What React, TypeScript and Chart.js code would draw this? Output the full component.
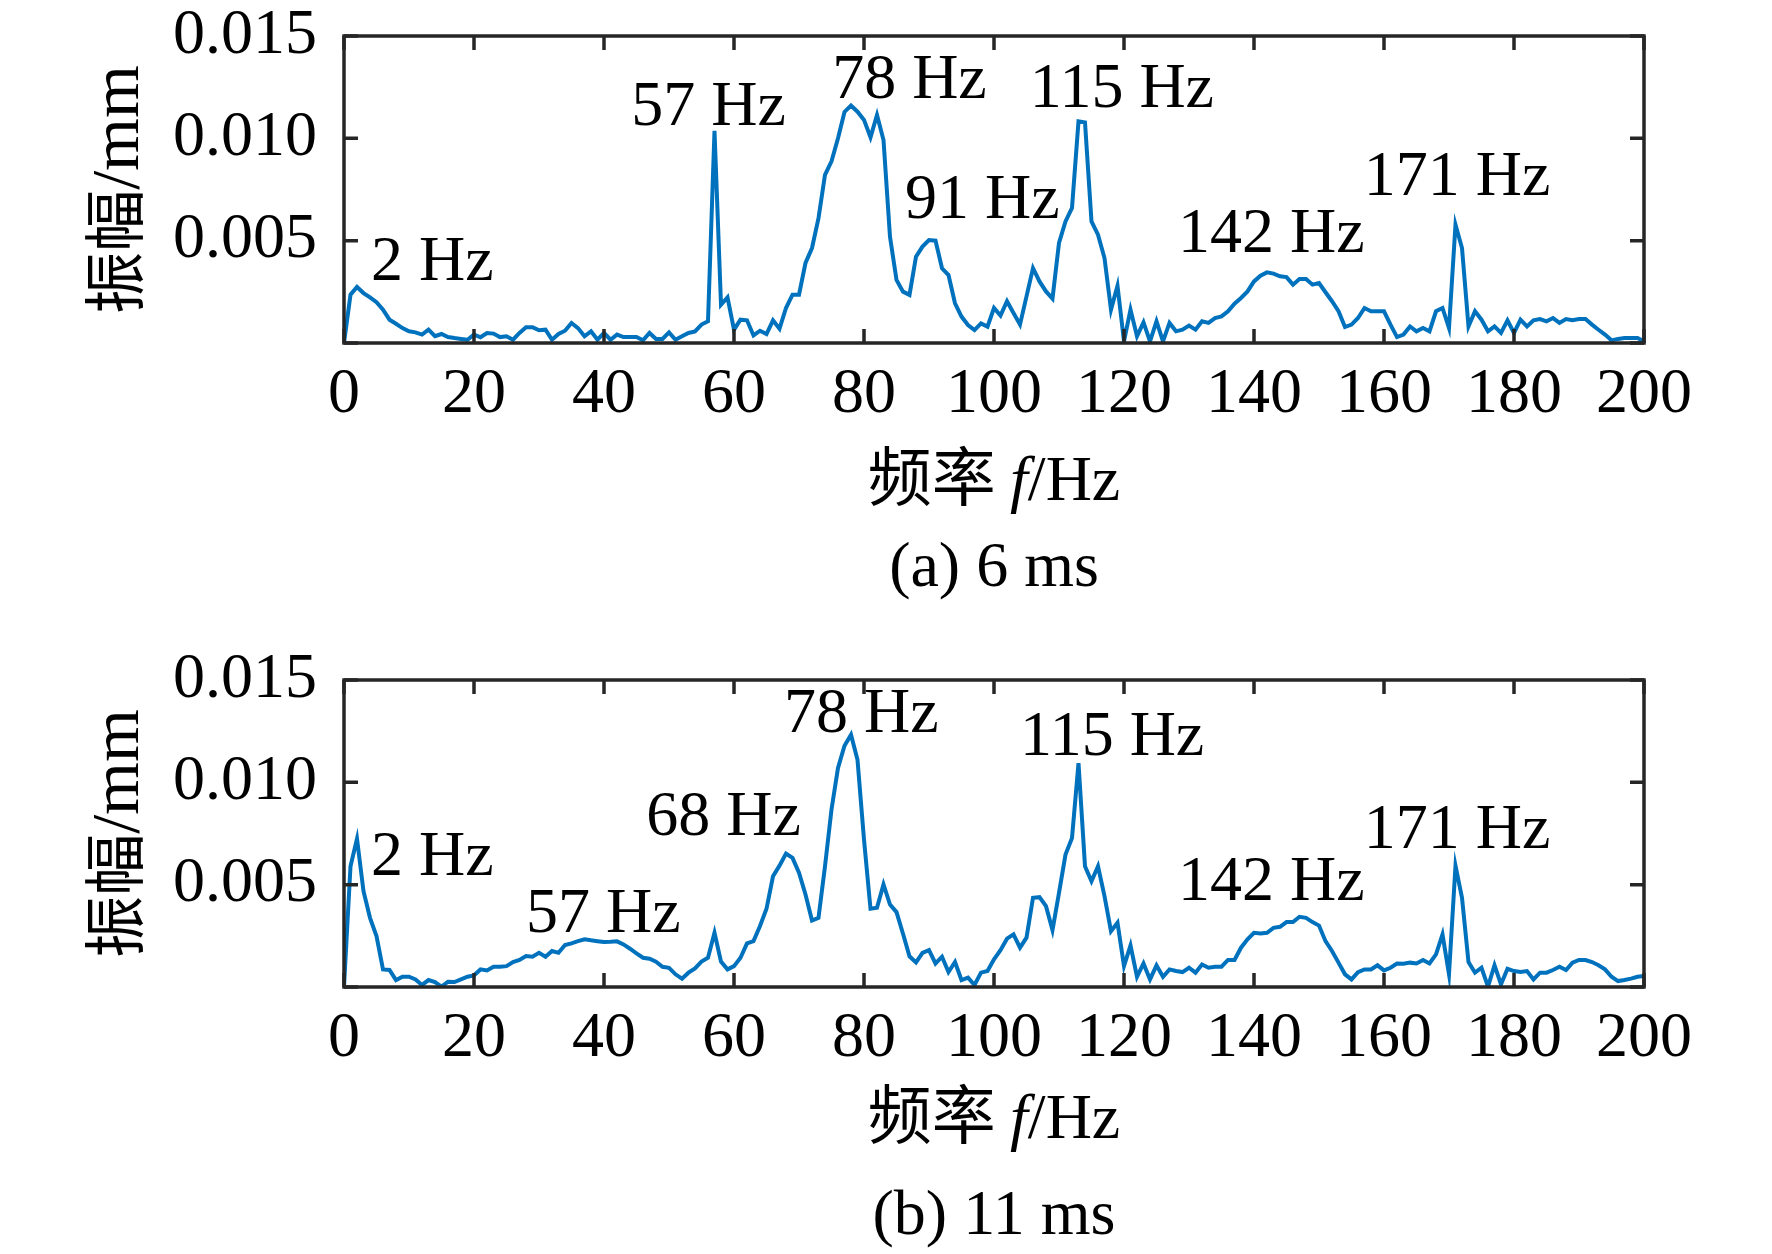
import React, { useEffect, useRef } from 'react';
import { Chart, registerables } from 'chart.js';

Chart.register(...registerables);

// ---------------- data ----------------
const FREQ_HZ = [
  0, 1, 2, 3, 4, 5, 6, 7, 8, 9, 10, 11, 12, 13, 14, 15, 16, 17, 18, 19,
  20, 21, 22, 23, 24, 25, 26, 27, 28, 29, 30, 31, 32, 33, 34, 35, 36, 37, 38, 39,
  40, 41, 42, 43, 44, 45, 46, 47, 48, 49, 50, 51, 52, 53, 54, 55, 56, 57, 58, 59,
  60, 61, 62, 63, 64, 65, 66, 67, 68, 69, 70, 71, 72, 73, 74, 75, 76, 77, 78, 79,
  80, 81, 82, 83, 84, 85, 86, 87, 88, 89, 90, 91, 92, 93, 94, 95, 96, 97, 98, 99,
  100, 101, 102, 103, 104, 105, 106, 107, 108, 109, 110, 111, 112, 113, 114, 115, 116, 117, 118, 119,
  120, 121, 122, 123, 124, 125, 126, 127, 128, 129, 130, 131, 132, 133, 134, 135, 136, 137, 138, 139,
  140, 141, 142, 143, 144, 145, 146, 147, 148, 149, 150, 151, 152, 153, 154, 155, 156, 157, 158, 159,
  160, 161, 162, 163, 164, 165, 166, 167, 168, 169, 170, 171, 172, 173, 174, 175, 176, 177, 178, 179,
  180, 181, 182, 183, 184, 185, 186, 187, 188, 189, 190, 191, 192, 193, 194, 195, 196, 197, 198, 199,
  200,
];

// amplitude (mm), 6 ms
const AMP_6MS = [
  0.0, 0.00236, 0.00274, 0.00244, 0.00223, 0.00199, 0.00163, 0.00114, 0.00094, 0.00073,
  0.00057, 0.00052, 0.00041, 0.00065, 0.00033, 0.00044, 0.00029, 0.00024, 0.0002, 0.00016,
  0.00041, 0.00028, 0.00049, 0.00046, 0.00029, 0.00033, 0.00016, 0.00049, 0.00077, 0.00077,
  0.00062, 0.00065, 0.00016, 0.00044, 0.0006, 0.00098, 0.00073, 0.00033, 0.00057, 0.00016,
  0.00049, 0.00016, 0.00041, 0.00029, 0.00029, 0.00029, 0.00013, 0.00049, 0.0002, 0.0002,
  0.00052, 0.00016, 0.00033, 0.00049, 0.00057, 0.0009, 0.00106, 0.01037, 0.00187, 0.00223,
  0.00065, 0.00114, 0.00111, 0.00037, 0.0006, 0.00044, 0.00111, 0.0007, 0.00171, 0.00236,
  0.00236, 0.00391, 0.00464, 0.0061, 0.00822, 0.00888, 0.01, 0.01129, 0.0116, 0.0113,
  0.0109, 0.01005, 0.01114, 0.00992, 0.00519, 0.00308, 0.00251, 0.00235, 0.00422, 0.00471,
  0.00503, 0.005, 0.00365, 0.00332, 0.00194, 0.00129, 0.00088, 0.00063, 0.00096, 0.0008,
  0.00171, 0.00134, 0.00204, 0.00147, 0.0009, 0.00228, 0.00366, 0.00301, 0.00252, 0.00217,
  0.00489, 0.00594, 0.0066, 0.01083, 0.01078, 0.00594, 0.00529, 0.00415, 0.00163, 0.0028,
  0.00008, 0.00163, 0.00033, 0.00101, 0.00008, 0.00106, 0.00008, 0.00098, 0.00057, 0.00065,
  0.00085, 0.00065, 0.00106, 0.00098, 0.00122, 0.0013, 0.00155, 0.00192, 0.0022, 0.00252,
  0.00301, 0.00329, 0.00345, 0.00339, 0.00326, 0.00322, 0.00285, 0.00313, 0.00313, 0.00285,
  0.00293, 0.00248, 0.00204, 0.00155, 0.00078, 0.0009, 0.00122, 0.00171, 0.00155, 0.00155,
  0.00155, 0.0009, 0.00029, 0.00041, 0.00081, 0.00057, 0.00073, 0.00057, 0.00155, 0.00171,
  0.00073, 0.00578, 0.00464, 0.00081, 0.00155, 0.00114, 0.00057, 0.00081, 0.00049, 0.00111,
  0.00049, 0.00114, 0.00081, 0.00111, 0.00117, 0.00106, 0.00122, 0.00098, 0.00117, 0.00111,
  0.00117, 0.00117, 0.0009, 0.00065, 0.00041, 0.00013, 0.0002, 0.00024, 0.00024, 0.00024,
  0.00008,
];

// amplitude (mm), 11 ms
const AMP_11MS = [
  0.0, 0.0059, 0.00724, 0.00468, 0.00338, 0.00249, 0.00086, 0.00083, 0.00034, 0.0005,
  0.0005, 0.00037, 0.0001, 0.00034, 0.00024, 0.00002, 0.00026, 0.00024, 0.00037, 0.0005,
  0.00057, 0.00086, 0.00081, 0.00099, 0.00099, 0.00102, 0.00122, 0.00132, 0.00151, 0.00148,
  0.00167, 0.00148, 0.00176, 0.00167, 0.00205, 0.00213, 0.00224, 0.00233, 0.00228, 0.00224,
  0.0022, 0.00221, 0.00223, 0.00208, 0.00187, 0.00164, 0.00143, 0.00138, 0.00124, 0.00099,
  0.00094, 0.00062, 0.00041, 0.0007, 0.00091, 0.00124, 0.00143, 0.00265, 0.00124, 0.00086,
  0.00102, 0.00143, 0.00213, 0.00224, 0.00298, 0.00382, 0.00541, 0.00593, 0.00652, 0.00631,
  0.00558, 0.00452, 0.00325, 0.00338, 0.0059, 0.00867, 0.0107, 0.01179, 0.01233, 0.0111,
  0.0072, 0.00382, 0.00387, 0.00501, 0.00403, 0.00366, 0.0026, 0.0015, 0.0012, 0.00167,
  0.0018, 0.00115, 0.00148, 0.00073, 0.00122, 0.00034, 0.00046, 0.0001, 0.0007, 0.00078,
  0.00135, 0.0018, 0.00236, 0.00257, 0.00192, 0.00241, 0.00436, 0.00439, 0.00395, 0.00278,
  0.0046, 0.00647, 0.00728, 0.01094, 0.0059, 0.00517, 0.0059, 0.00444, 0.00273, 0.00314,
  0.00102, 0.00203, 0.0005, 0.00115, 0.00037, 0.00106, 0.0005, 0.00086, 0.00078, 0.00073,
  0.00094, 0.0007, 0.0011, 0.00094, 0.00099, 0.00099, 0.00132, 0.00132, 0.00192, 0.00233,
  0.00265, 0.00262, 0.00265, 0.00289, 0.00294, 0.00317, 0.00317, 0.00343, 0.00338, 0.00317,
  0.003, 0.00224, 0.00176, 0.00119, 0.00062, 0.00037, 0.00073, 0.00086, 0.00086, 0.00106,
  0.00081, 0.00094, 0.00115, 0.00114, 0.00119, 0.00115, 0.00132, 0.00115, 0.00159, 0.00257,
  0.00062, 0.00593, 0.00436, 0.00122, 0.0007, 0.00094, 0.00002, 0.00106, 0.00013, 0.00089,
  0.00078, 0.00073, 0.00078, 0.00037, 0.0007, 0.0007, 0.00083, 0.00099, 0.00083, 0.00119,
  0.00132, 0.00132, 0.00122, 0.00106, 0.00086, 0.0005, 0.00029, 0.00034, 0.00041, 0.0005,
  0.00054,
];

const PEAK_LABELS_6MS = ['2 Hz', '57 Hz', '78 Hz', '91 Hz', '115 Hz', '142 Hz', '171 Hz'];
const PEAK_AT_HZ_6MS = [4.15, 44.2, 75.1, 86.3, 105.5, 128.3, 156.9];
const PEAK_AT_AMP_6MS = [0.00308, 0.01065, 0.01197, 0.00611, 0.01153, 0.00445, 0.00723];

const PEAK_LABELS_11MS = ['2 Hz', '57 Hz', '68 Hz', '78 Hz', '115 Hz', '142 Hz', '171 Hz'];
const PEAK_AT_HZ_11MS = [4.15, 28.0, 46.5, 67.7, 104.0, 128.3, 156.9];
const PEAK_AT_AMP_11MS = [0.00549, 0.00271, 0.00744, 0.01246, 0.01134, 0.00427, 0.0068];

const X_MIN = 0;
const X_MAX = 200;
const X_STEP = 20;
const Y_MIN = 0;
const Y_MAX = 0.015;
const Y_STEP = 0.005;

const Y_TITLE_CJK = '振幅';
const Y_TITLE_UNIT = '/mm';
const X_TITLE_CJK = '频率 ';
const X_TITLE_VAR = 'f';
const X_TITLE_UNIT = '/Hz';

// ---------------- styles ----------------
const W = 1772;
const SERIF = '"Liberation Serif", "Times New Roman", serif';
const CJK = '"Noto Sans CJK SC", sans-serif';
const AXIS_COLOR = '#262626';
const LINE_COLOR = '#0072BD';
const FS = 64;

type PanelProps = {
  values: number[];
  labels: string[];
  atHz: number[];
  atAmp: number[];
  caption: string;
  height: number;
  xTitleBaseline: number;
  captionBaseline: number;
};

function Panel(props: PanelProps) {
  const ref = useRef<HTMLCanvasElement | null>(null);

  useEffect(() => {
    const canvas = ref.current;
    if (!canvas) return;
    const H = props.height;

    const framePlugin = {
      id: 'frame',
      afterDraw(chart: any) {
        const ctx = chart.ctx as CanvasRenderingContext2D;
        const { left, right, top, bottom } = chart.chartArea;
        const xs = chart.scales.x;
        const ys = chart.scales.y;
        ctx.save();
        // box
        ctx.strokeStyle = AXIS_COLOR;
        ctx.lineWidth = 3.5;
        ctx.strokeRect(left, top, right - left, bottom - top);
        // inward ticks
        const tl = 14;
        ctx.beginPath();
        xs.ticks.forEach((t: any) => {
          const px = xs.getPixelForValue(t.value);
          ctx.moveTo(px, bottom);
          ctx.lineTo(px, bottom - tl);
          ctx.moveTo(px, top);
          ctx.lineTo(px, top + tl);
        });
        ys.ticks.forEach((t: any) => {
          const py = ys.getPixelForValue(t.value);
          ctx.moveTo(left, py);
          ctx.lineTo(left + tl, py);
          ctx.moveTo(right, py);
          ctx.lineTo(right - tl, py);
        });
        ctx.stroke();

        // peak annotations
        ctx.fillStyle = '#000';
        ctx.font = `${FS}px ${SERIF}`;
        ctx.textAlign = 'left';
        ctx.textBaseline = 'alphabetic';
        props.labels.forEach((txt, i) => {
          ctx.fillText(txt, xs.getPixelForValue(props.atHz[i]), ys.getPixelForValue(props.atAmp[i]));
        });

        // x title: 频率 f/Hz
        const cx = (left + right) / 2;
        ctx.font = `${FS}px ${CJK}`;
        const w1 = ctx.measureText(X_TITLE_CJK).width;
        ctx.font = `italic ${FS}px ${SERIF}`;
        const w2 = ctx.measureText(X_TITLE_VAR).width;
        ctx.font = `${FS}px ${SERIF}`;
        const w3 = ctx.measureText(X_TITLE_UNIT).width;
        let sx = cx - (w1 + w2 + w3) / 2;
        const by = props.xTitleBaseline;
        ctx.font = `${FS}px ${CJK}`;
        ctx.fillText(X_TITLE_CJK, sx, by);
        sx += w1;
        ctx.font = `italic ${FS}px ${SERIF}`;
        ctx.fillText(X_TITLE_VAR, sx, by);
        sx += w2;
        ctx.font = `${FS}px ${SERIF}`;
        ctx.fillText(X_TITLE_UNIT, sx, by);

        // caption
        ctx.font = `${FS}px ${SERIF}`;
        ctx.textAlign = 'center';
        ctx.fillText(props.caption, cx, props.captionBaseline);

        // y title (rotated)
        ctx.save();
        ctx.translate(138, (top + bottom) / 2);
        ctx.rotate(-Math.PI / 2);
        ctx.textAlign = 'left';
        ctx.font = `62px ${CJK}`;
        const v1 = ctx.measureText(Y_TITLE_CJK).width;
        ctx.font = `68px ${SERIF}`;
        const v2 = ctx.measureText(Y_TITLE_UNIT).width;
        const vs = -(v1 + v2) / 2;
        ctx.font = `62px ${CJK}`;
        ctx.fillText(Y_TITLE_CJK, vs, 0);
        ctx.font = `68px ${SERIF}`;
        ctx.fillText(Y_TITLE_UNIT, vs + v1, 0);
        ctx.restore();

        ctx.restore();
      },
    };

    const chart = new Chart(canvas, {
      type: 'line',
      data: {
        datasets: [
          {
            data: FREQ_HZ.map((f, i) => ({ x: f, y: props.values[i] })),
            borderColor: LINE_COLOR,
            borderWidth: 4,
            pointRadius: 0,
            tension: 0,
            fill: false,
          },
        ],
      },
      options: {
        animation: false,
        responsive: false,
        devicePixelRatio: 1,
        layout: { padding: { top: 36, right: W - 1644, left: 0, bottom: 0 } },
        plugins: { legend: { display: false }, tooltip: { enabled: false } },
        scales: {
          x: {
            type: 'linear',
            min: X_MIN,
            max: X_MAX,
            ticks: {
              stepSize: X_STEP,
              autoSkip: false,
              maxRotation: 0,
              padding: 14,
              color: '#000',
              font: { family: SERIF, size: FS },
            },
            grid: { display: false, drawTicks: false },
            border: { display: false },
            afterFit: (s: any) => {
              s.height = H - 343;
              s.paddingLeft = 0;
              s.paddingRight = 0;
            },
          },
          y: {
            min: Y_MIN,
            max: Y_MAX,
            ticks: {
              stepSize: Y_STEP,
              padding: 27,
              color: '#000',
              font: { family: SERIF, size: FS },
              callback: (v: any) => (Number(v) === 0 ? '' : Number(v).toFixed(3)),
            },
            grid: { display: false, drawTicks: false },
            border: { display: false },
            afterFit: (s: any) => {
              s.width = 344;
              s.paddingTop = 0;
              s.paddingBottom = 0;
            },
          },
        },
      } as any,
      plugins: [framePlugin],
    });

    return () => chart.destroy();
  }, []);

  return (
    <canvas
      ref={ref}
      width={W}
      height={props.height}
      style={{ display: 'block', width: W, height: props.height }}
    />
  );
}

export default function App() {
  return (
    <div
      style={{
        position: 'absolute',
        left: 0,
        top: 0,
        width: W,
        height: 1254,
        background: '#fff',
        overflow: 'hidden',
      }}
    >
      <Panel
        values={AMP_6MS}
        labels={PEAK_LABELS_6MS}
        atHz={PEAK_AT_HZ_6MS}
        atAmp={PEAK_AT_AMP_6MS}
        caption="(a) 6 ms"
        height={644}
        xTitleBaseline={500}
        captionBaseline={586}
      />
      <Panel
        values={AMP_11MS}
        labels={PEAK_LABELS_11MS}
        atHz={PEAK_AT_HZ_11MS}
        atAmp={PEAK_AT_AMP_11MS}
        caption="(b) 11 ms"
        height={610}
        xTitleBaseline={494}
        captionBaseline={590}
      />
    </div>
  );
}
